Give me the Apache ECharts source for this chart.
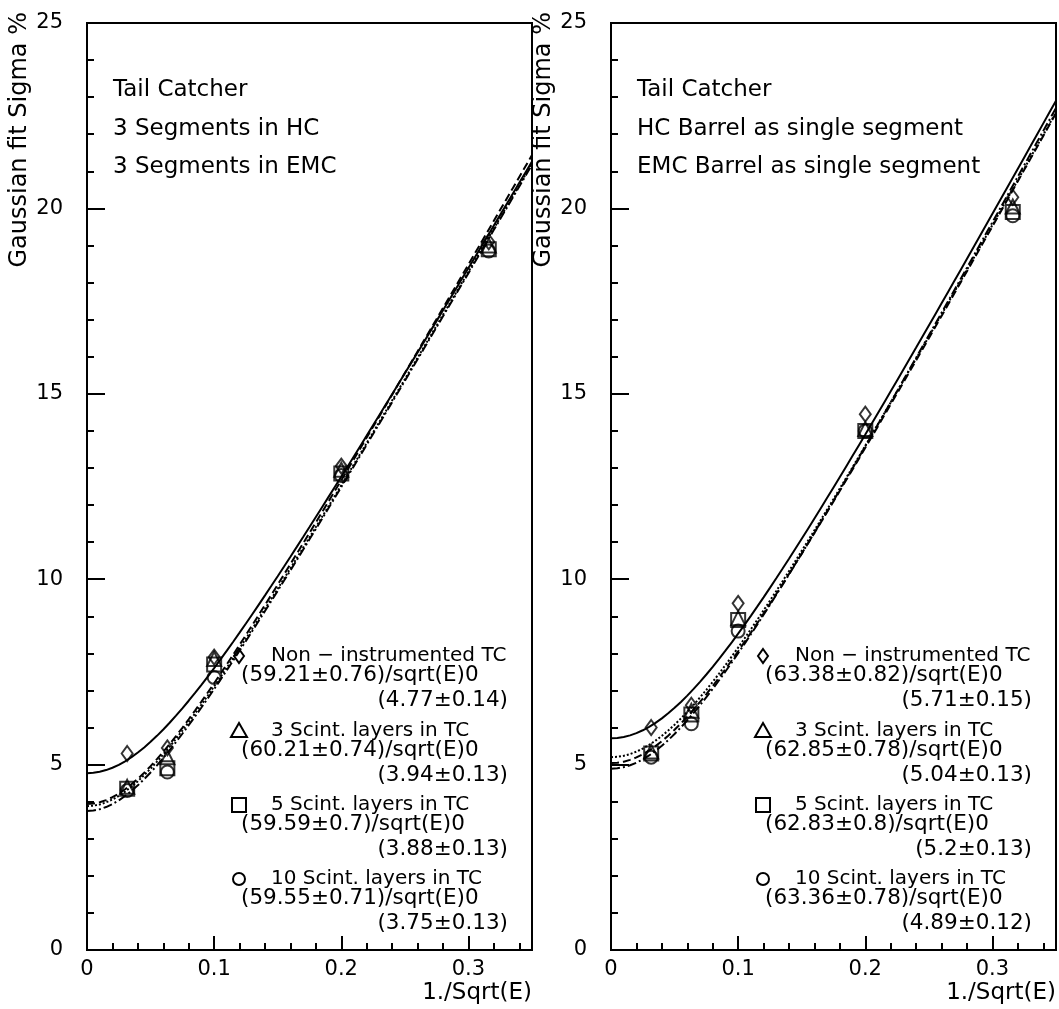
<!DOCTYPE html>
<html><head><meta charset="utf-8">
<script src="https://cdn.jsdelivr.net/npm/echarts@6/dist/echarts.min.js"></script>
<style>html,body{margin:0;padding:0;background:#fff}#c{width:1059px;height:1009px}</style>
</head><body><div id="c"></div>
<script>
// ---- data ----
const xValues = [0.0316, 0.0632, 0.1, 0.2, 0.316];
const seriesNames = ['Non − instrumented TC', '3 Scint. layers in TC', '5 Scint. layers in TC', '10 Scint. layers in TC'];
const symbols = ['diamond', 'triangle', 'rect', 'circle'];

const leftNonInstr = [5.3, 5.45, 7.9, 13.05, 19.1];
const left3Layers  = [4.4, 5.2, 7.85, 12.95, 19.0];
const left5Layers  = [4.35, 4.9, 7.7, 12.85, 18.9];
const left10Layers = [4.3, 4.8, 7.35, 12.8, 18.85];

const rightNonInstr = [6.0, 6.6, 9.35, 14.45, 20.3];
const right3Layers  = [5.35, 6.45, 8.95, 14.05, 20.05];
const right5Layers  = [5.3, 6.35, 8.9, 14.0, 19.9];
const right10Layers = [5.2, 6.1, 8.6, 14.0, 19.8];

// fit parameters: sigma = a/sqrt(E) (+) b
const leftFitA  = [59.21, 60.21, 59.59, 59.55];
const leftFitB  = [4.77, 3.94, 3.88, 3.75];
const rightFitA = [63.38, 62.85, 62.83, 63.36];
const rightFitB = [5.71, 5.04, 5.2, 4.89];

const leftFitText1  = ['(59.21±0.76)/sqrt(E)0', '(60.21±0.74)/sqrt(E)0', '(59.59±0.7)/sqrt(E)0', '(59.55±0.71)/sqrt(E)0'];
const leftFitText2  = ['(4.77±0.14)', '(3.94±0.13)', '(3.88±0.13)', '(3.75±0.13)'];
const rightFitText1 = ['(63.38±0.82)/sqrt(E)0', '(62.85±0.78)/sqrt(E)0', '(62.83±0.8)/sqrt(E)0', '(63.36±0.78)/sqrt(E)0'];
const rightFitText2 = ['(5.71±0.15)', '(5.04±0.13)', '(5.2±0.13)', '(4.89±0.12)'];

const leftTitles  = ['Tail Catcher', '3 Segments in HC', '3 Segments in EMC'];
const rightTitles = ['Tail Catcher', 'HC Barrel as single segment', 'EMC Barrel as single segment'];

const xTitle = '1./Sqrt(E)';
const yTitle = 'Gaussian fit Sigma %';
const xMin = 0, xMax = 0.35, xMajor = 0.1, xMinor = 0.02;
const yMin = 0, yMax = 25, yMajor = 5, yMinor = 1;

// ---- layout ----
const FONT = 'DejaVu Sans';
const grids = [
  {left: 87, top: 23, width: 445, height: 927},
  {left: 611, top: 23, width: 445, height: 927}
];
const lineTypes = ['solid', 'dashed', 'dotted', [9, 3, 2, 3]];

const panels = [
  {pts: [leftNonInstr, left3Layers, left5Layers, left10Layers], A: leftFitA, B: leftFitB, t1: leftFitText1, t2: leftFitText2, titles: leftTitles},
  {pts: [rightNonInstr, right3Layers, right5Layers, right10Layers], A: rightFitA, B: rightFitB, t1: rightFitText1, t2: rightFitText2, titles: rightTitles}
];

const xAxes = [], yAxes = [], series = [], graphic = [];

function fitCurve(a, b) {
  const out = [];
  const n = 70;
  for (let i = 0; i <= n; i++) {
    const x = xMin + (xMax - xMin) * i / n;
    out.push([x, Math.sqrt((a * x) * (a * x) + b * b)]);
  }
  return out;
}

function marker(type, cx, cy) {
  const st = {fill: 'none', stroke: '#000', lineWidth: 2};
  if (type === 'diamond') return {type: 'polygon', shape: {points: [[cx, cy - 7], [cx + 5, cy], [cx, cy + 7], [cx - 5, cy]]}, style: st};
  if (type === 'triangle') return {type: 'polygon', shape: {points: [[cx, cy - 8], [cx + 8, cy + 6], [cx - 8, cy + 6]]}, style: st};
  if (type === 'rect') return {type: 'rect', shape: {x: cx - 7, y: cy - 7, width: 14, height: 14}, style: st};
  return {type: 'circle', shape: {cx: cx, cy: cy, r: 6}, style: st};
}

panels.forEach((p, g) => {
  const gl = grids[g].left;
  xAxes.push({
    gridIndex: g, type: 'value', position: 'bottom', min: xMin, max: xMax, interval: xMajor,
    axisLine: {show: true, lineStyle: {color: '#000', width: 2}},
    axisTick: {show: true, inside: true, length: 14, lineStyle: {color: '#000', width: 2}},
    axisLabel: {showMaxLabel: false, fontSize: 21, fontFamily: FONT, color: '#000', margin: 9},
    splitLine: {show: false}
  });
  xAxes.push({
    gridIndex: g, type: 'value', position: 'bottom', min: xMin, max: xMax, interval: xMinor,
    axisLine: {show: false},
    axisTick: {show: true, inside: true, length: 7, lineStyle: {color: '#000', width: 2}},
    axisLabel: {show: false}, splitLine: {show: false}
  });
  yAxes.push({
    gridIndex: g, type: 'value', position: 'left', min: yMin, max: yMax, interval: yMajor,
    axisLine: {show: true, lineStyle: {color: '#000', width: 2}},
    axisTick: {show: true, inside: true, length: 18, lineStyle: {color: '#000', width: 2}},
    axisLabel: {fontSize: 21, fontFamily: FONT, color: '#000', margin: 24},
    splitLine: {show: false}
  });
  yAxes.push({
    gridIndex: g, type: 'value', position: 'left', min: yMin, max: yMax, interval: yMinor,
    axisLine: {show: false},
    axisTick: {show: true, inside: true, length: 7, lineStyle: {color: '#000', width: 2}},
    axisLabel: {show: false}, splitLine: {show: false}
  });

  p.pts.forEach((vals, k) => {
    series.push({
      type: 'line', xAxisIndex: 2 * g, yAxisIndex: 2 * g, showSymbol: false, silent: true, z: 2,
      data: fitCurve(p.A[k], p.B[k]),
      lineStyle: {color: '#000', width: 2, type: lineTypes[k]}
    });
    series.push({
      type: 'scatter', name: seriesNames[k], xAxisIndex: 2 * g, yAxisIndex: 2 * g, z: 3,
      symbol: symbols[k],
      symbolSize: symbols[k] === 'diamond' ? [11, 15] : (symbols[k] === 'circle' ? 13 : 14),
      itemStyle: {color: 'rgba(0,0,0,0)', borderColor: '#000', borderWidth: 2},
      data: xValues.map((x, i) => [x, vals[i]])
    });
  });

  // header texts
  const titleY = [90, 129, 167];
  p.titles.forEach((t, i) => {
    graphic.push({type: 'text', x: gl + 26, y: titleY[i],
      style: {text: t, font: '23px "' + FONT + '"', fill: '#000', verticalAlign: 'middle', align: 'left'}});
  });

  // legend block
  const rowY = [656, 731, 805, 879];
  rowY.forEach((ry, k) => {
    graphic.push(marker(symbols[k], gl + 152, ry));
    graphic.push({type: 'text', x: gl + 184, y: ry, style: {text: seriesNames[k], font: '20px "' + FONT + '"', fill: '#000', verticalAlign: 'middle', align: 'left'}});
    graphic.push({type: 'text', x: gl + 154, y: ry + 19, style: {text: p.t1[k], font: '21.5px "' + FONT + '"', fill: '#000', verticalAlign: 'middle', align: 'left'}});
    graphic.push({type: 'text', x: gl + 421, y: ry + 44, style: {text: p.t2[k], font: '21.5px "' + FONT + '"', fill: '#000', verticalAlign: 'middle', align: 'right'}});
  });

  // axis titles
  graphic.push({type: 'text', x: gl + grids[g].width, y: 993, style: {text: xTitle, font: '23px "' + FONT + '"', fill: '#000', align: 'right', verticalAlign: 'middle'}});
  graphic.push({type: 'text', x: gl - 67, y: 12, rotation: Math.PI / 2,
    style: {text: yTitle, font: '24px "' + FONT + '"', fill: '#000', align: 'right', verticalAlign: 'middle'}});
});

const chart = echarts.init(document.getElementById('c'), null, {renderer: 'canvas'});
chart.setOption({
  backgroundColor: '#fff',
  animation: false,
  grid: grids.map(gr => Object.assign({show: true, borderColor: '#000', borderWidth: 2, backgroundColor: 'transparent'}, gr)),
  xAxis: xAxes,
  yAxis: yAxes,
  series: series,
  graphic: graphic
});
</script>
</body></html>
